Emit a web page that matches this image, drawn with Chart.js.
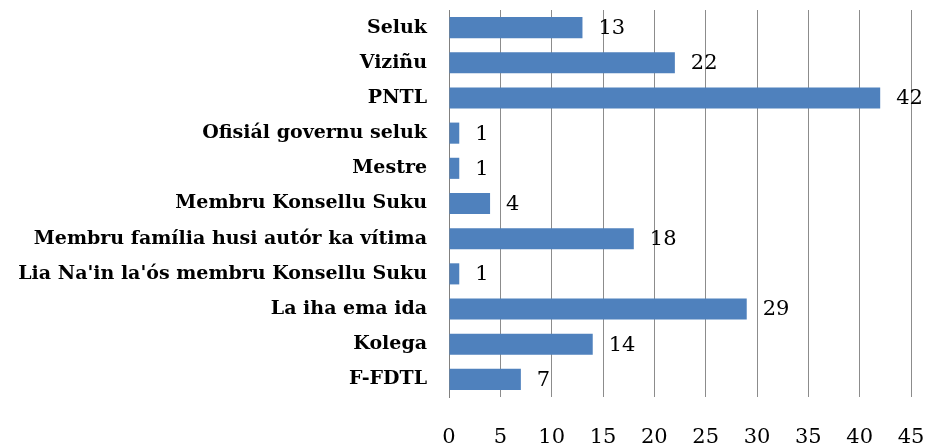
<!DOCTYPE html>
<html>
<head>
<meta charset="utf-8">
<script src="https://cdn.jsdelivr.net/npm/chart.js@4/dist/chart.umd.min.js"></script>
<style>
  html, body { margin: 0; padding: 0; background: #fff; }
  #wrap { width: 928px; height: 447px; position: relative; }
</style>
</head>
<body>
<div id="wrap"><canvas id="barChart"></canvas></div>
<script>
// categories top to bottom, and counts
const categories = [
  'Seluk', 'Viziñu', 'PNTL', 'Ofisiál governu seluk', 'Mestre',
  'Membru Konsellu Suku', 'Membru família husi autór ka vítima',
  "Lia Na'in la'ós membru Konsellu Suku", 'La iha ema ida', 'Kolega', 'F-FDTL'
];
const counts = [13, 22, 42, 1, 1, 4, 18, 1, 29, 14, 7];
const xTicks = [0, 5, 10, 15, 20, 25, 30, 35, 40, 45];

const SERIF = '"DejaVu Serif", "Liberation Serif", serif';

// value labels right of each bar
const valueLabels = {
  id: 'valueLabels',
  afterDatasetsDraw(chart) {
    const ctx = chart.ctx;
    const meta = chart.getDatasetMeta(0);
    ctx.save();
    ctx.font = '21px ' + SERIF;
    ctx.fillStyle = '#000';
    ctx.textAlign = 'left';
    ctx.textBaseline = 'middle';
    meta.data.forEach((bar, i) => {
      ctx.fillText(String(counts[i]), bar.x + 16, bar.y + 1);
    });
    ctx.restore();
  }
};

new Chart(document.getElementById('barChart'), {
  type: 'bar',
  data: {
    labels: categories,
    datasets: [{
      data: counts,
      backgroundColor: '#4F81BD',
      borderWidth: 0,
      barPercentage: 0.6,
      categoryPercentage: 1.0,
    }]
  },
  options: {
    indexAxis: 'y',
    responsive: true, maintainAspectRatio: false,
    animation: false,
    layout: { padding: { top: 10, right: 17, bottom: 0, left: 0 } },
    plugins: { legend: { display: false }, tooltip: { enabled: false } },
    scales: {
      x: {
        min: 0, max: 45,
        afterBuildTicks: (s) => { s.ticks = xTicks.map(v => ({ value: v })); },
        afterFit: (s) => { s.height = 50; s.paddingLeft = 0; s.paddingRight = 0; },
        grid: { color: '#8c8c8c', lineWidth: 1, drawTicks: false },
        border: { display: false },
        ticks: { color: '#000', font: { family: SERIF, size: 21 }, padding: 28, maxRotation: 0 },
      },
      y: {
        afterFit: (s) => { s.width = 449; s.paddingTop = 0; s.paddingBottom = 0; },
        grid: { display: false },
        border: { display: true, color: '#808080', width: 1 },
        ticks: { color: '#000', font: { family: SERIF, size: 19, weight: 'bold' }, padding: 14, autoSkip: false },
      }
    }
  },
  plugins: [valueLabels]
});
</script>
</body>
</html>
